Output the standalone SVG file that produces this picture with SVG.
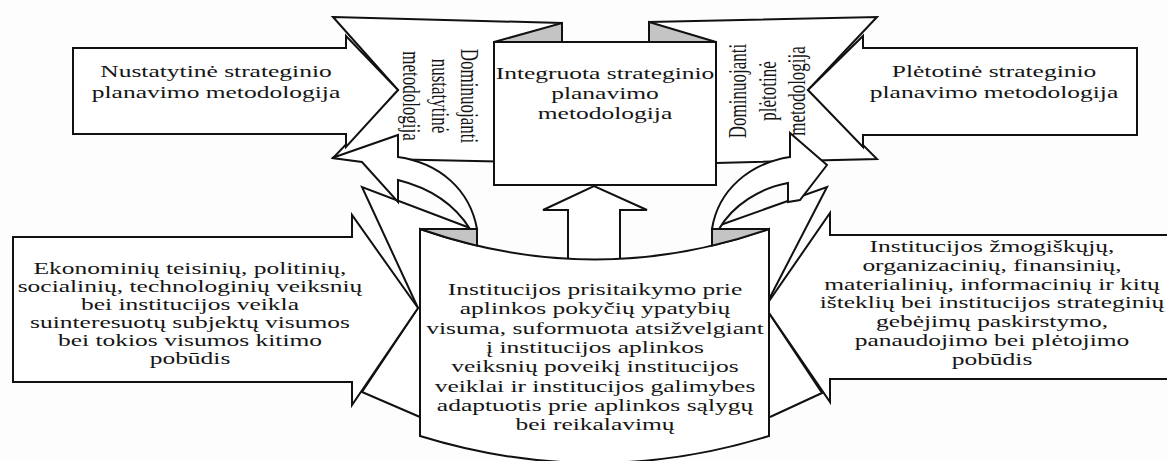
<svg xmlns="http://www.w3.org/2000/svg" width="1167" height="461" viewBox="0 0 1167 461">
<style>
.sh{fill:#fff;stroke:#111;stroke-width:2;stroke-linejoin:miter}
.ln{fill:none;stroke:#111;stroke-width:2}
.gr{fill:#c4c4c4;stroke:#111;stroke-width:2}
.wf{fill:#fff;stroke:none}
.t{font-family:"Liberation Serif","Times New Roman",serif;font-size:17px;fill:#151515;text-anchor:middle}
</style>
<rect width="1167" height="461" fill="#fdfdfd"/>
<g id="dominuojanti-nustatytine">
<polygon class="sh" points="333,17 562,23 562,163 333,158 398,90"/>
<g class="t"><text transform="translate(461,96) scale(1.5,1) rotate(90)">Dominuojanti</text><text transform="translate(432,96) scale(1.5,1) rotate(90)">nustatytinė</text><text transform="translate(403,96) scale(1.5,1) rotate(90)">metodologija</text></g>
</g>
<g id="dominuojanti-pletotine">
<polygon class="sh" points="649,22 877,17 808,90 877,159 716,163 649,163"/>
<g class="t"><text transform="translate(746,91) scale(1.5,1) rotate(-90)">Dominuojanti</text><text transform="translate(776,91) scale(1.5,1) rotate(-90)">plėtotinė</text><text transform="translate(805,91) scale(1.5,1) rotate(-90)">metodologija</text></g>
</g>
<g id="nustatytine">
<polygon class="sh" points="73,48 346,48 346,36 398,90 346,147 346,134 73,134"/>
<g class="t" transform="translate(216,0) scale(1.5,1)"><text x="0" y="77">Nustatytinė strateginio</text><text x="0" y="98">planavimo metodologija</text></g>
</g>
<g id="pletotine">
<polygon class="sh" points="1137,48 863,48 863,36 808,90 863,147 863,135 1137,135"/>
<g class="t" transform="translate(994,0) scale(1.5,1)"><text x="0" y="77">Plėtotinė strateginio</text><text x="0" y="98">planavimo metodologija</text></g>
</g>
<g id="connectors">
<polygon class="wf" points="470,228 362,187 418,308 362,392 420,417 420,229"/>
<polyline class="ln" points="470,228 362,187 418,308 362,392 420,417"/>
<polygon class="wf" points="712,228 827,187 765,307 822,393 770,417 769,229"/>
<polyline class="ln" points="712,228 827,187 765,307 822,393 770,417"/>
<path class="sh" d="M332,158 L398,135 L398,157 C440,163 470,190 477,229 L470,229 C455,205 430,188 398,180 L398,202 L362,162 Z"/>
<path class="sh" d="M827,165 L790,133 L790,157 C750,163 718,190 712,229 L719,229 C733,205 760,188 788,183 L788,202 L800,200 Z"/>
<polygon class="sh" points="568,262 568,210 543,210 594,186 647,210 620,210 620,262"/>
</g>
<g id="aplinka">
<polygon class="sh" points="13,237 352,237 352,215 418,308 352,405 352,382 13,382"/>
<g class="t" transform="translate(190,0) scale(1.5,1)"><text x="0" y="274">Ekonominių teisinių, politinių,</text><text x="0" y="292">socialinių, technologinių veiksnių</text><text x="0" y="310">bei institucijos veikla</text><text x="0" y="328">suinteresuotų subjektų visumos</text><text x="0" y="346">bei tokios visumos kitimo</text><text x="0" y="364">pobūdis</text></g>
</g>
<g id="istekliai">
<polygon class="sh" points="1170,235 830,235 830,213 765,307 830,402 830,379 1170,379"/>
<g class="t" transform="translate(992,0) scale(1.5,1)"><text x="0" y="252">Institucijos žmogiškųjų,</text><text x="0" y="271">organizacinių, finansinių,</text><text x="0" y="290">materialinių, informacinių ir kitų</text><text x="0" y="308">išteklių bei institucijos strateginių</text><text x="0" y="327">gebėjimų paskirstymo,</text><text x="0" y="346">panaudojimo bei plėtojimo</text><text x="0" y="365">pobūdis</text></g>
</g>
<g id="prisitaikymas">
<path class="sh" d="M420,229 Q595,290 769,229 L769,436 Q595,490 420,436 Z"/>
<path class="gr" d="M420,229 L477,229 L477,245.6 Q448.5,239 420,229 Z"/>
<path class="gr" d="M769,229 L712,229 L712,245.6 Q740.5,239 769,229 Z"/>
<g class="t" transform="translate(595,0) scale(1.5,1)"><text x="0" y="295">Institucijos prisitaikymo prie</text><text x="0" y="314">aplinkos pokyčių ypatybių</text><text x="0" y="334">visuma, suformuota atsižvelgiant</text><text x="0" y="353">į institucijos aplinkos</text><text x="0" y="372">veiksnių poveikį institucijos</text><text x="0" y="392">veiklai ir institucijos galimybes</text><text x="0" y="411">adaptuotis prie aplinkos sąlygų</text><text x="0" y="430">bei reikalavimų</text></g>
</g>
<g id="integruota">
<polygon class="gr" points="494,42 562,23 562,42"/>
<polygon class="gr" points="649,22 716,42 649,42"/>
<rect class="sh" x="494" y="42" width="222" height="143" stroke-width="2.5"/>
<g class="t" transform="translate(605,0) scale(1.5,1)"><text x="0" y="79">Integruota strateginio</text><text x="0" y="99">planavimo</text><text x="0" y="119">metodologija</text></g>
</g>
</svg>
